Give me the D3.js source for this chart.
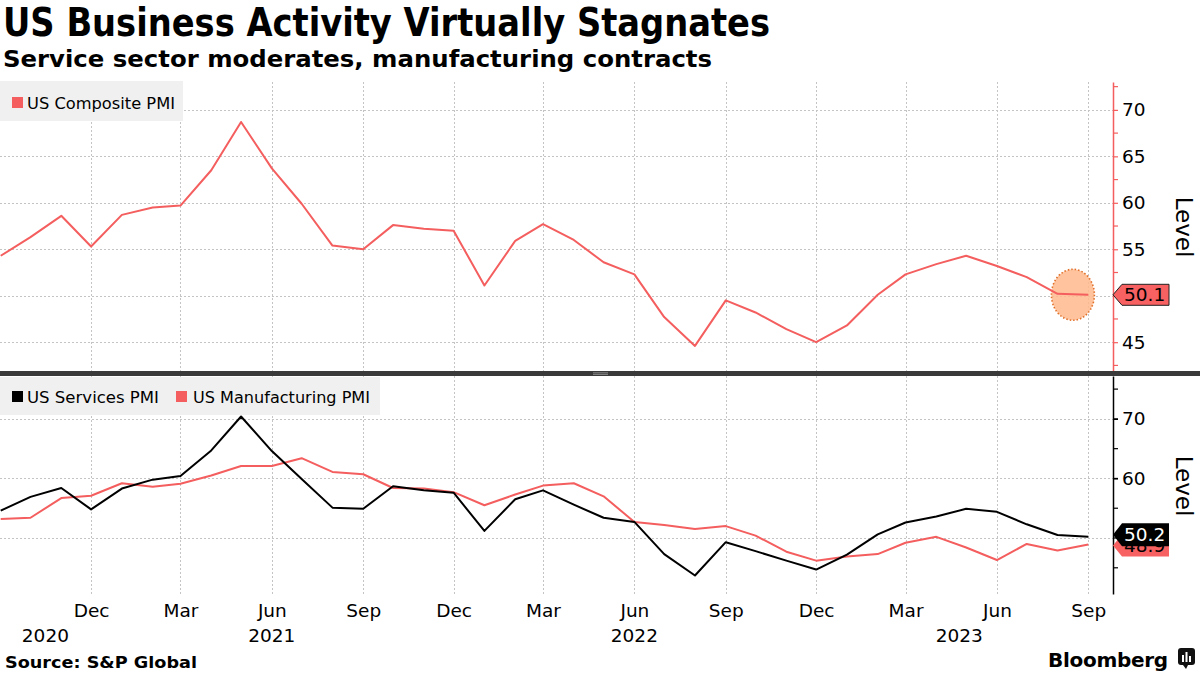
<!DOCTYPE html>
<html><head><meta charset="utf-8">
<script src="https://cdn.jsdelivr.net/npm/d3@7"></script>
<style>
body{margin:0;background:#fff}
svg{display:block}
text{font-family:"DejaVu Sans",Verdana,sans-serif}
</style>
</head><body>
<svg id="c" width="1200" height="675"></svg>
<script>
// ---------- DATA ----------
const months = ["2020-09","2020-10","2020-11","2020-12",
  "2021-01","2021-02","2021-03","2021-04","2021-05","2021-06","2021-07","2021-08","2021-09","2021-10","2021-11","2021-12",
  "2022-01","2022-02","2022-03","2022-04","2022-05","2022-06","2022-07","2022-08","2022-09","2022-10","2022-11","2022-12",
  "2023-01","2023-02","2023-03","2023-04","2023-05","2023-06","2023-07","2023-08","2023-09"];
const composite = [54.3,56.3,58.6,55.3,
  58.7,59.5,59.7,63.5,68.7,63.7,59.9,55.4,55.0,57.6,57.2,57.0,
  51.1,55.9,57.7,56.0,53.6,52.3,47.7,44.6,49.5,48.2,46.4,45.0,
  46.8,50.1,52.3,53.4,54.3,53.2,52.0,50.2,50.1];
const services = [54.6,56.9,58.4,54.8,
  58.3,59.8,60.4,64.7,70.4,64.6,59.9,55.1,54.9,58.7,58.0,57.6,
  51.2,56.5,58.0,55.6,53.4,52.7,47.3,43.7,49.3,47.8,46.2,44.7,
  47.2,50.6,52.6,53.6,54.9,54.4,52.3,50.5,50.2];
const manufacturing = [53.2,53.4,56.7,57.1,
  59.2,58.6,59.1,60.5,62.1,62.1,63.4,61.1,60.7,58.4,58.3,57.7,
  55.5,57.3,58.8,59.2,57.0,52.7,52.2,51.5,52.0,50.4,47.7,46.2,
  46.9,47.3,49.2,50.2,48.4,46.3,49.0,47.9,48.9];
const topTickLabels = [45,55,60,65,70];
const topGrid = [45,50,55,60,65,70];
const topMinorTicks = [42.5,47.5,50,52.5,57.5,62.5,67.5,72.5];
const bottomTickValues = [60,70];
const bottomAllTicks = [45,50,55,60,65,70,75];
const bottomGrid = [50,60,70];
const yearLabels = ["2020","2021","2022","2023"];
const yearLabelDates = ["2020-10-16","2021-06-01","2022-06-01","2023-04-24"];
const seriesNames = {composite:"US Composite PMI", services:"US Services PMI", manufacturing:"US Manufacturing PMI"};

// ---------- SETUP ----------
const RED = "#f45e5e", BLACK = "#000", GRID = "#c4c4c4";
const svg = d3.select("#c");
const parseM = d3.timeParse("%Y-%m");
const parseD = d3.timeParse("%Y-%m-%d");
const dates = months.map(parseM);
const AX = 1113;

const x = d3.scaleTime().domain([dates[0], dates[dates.length-1]]).range([0.7, 1088.3]);
const yTop = d3.scaleLinear().domain([41.9, 73.0]).range([371, 82]);
const yBot = d3.scaleLinear().domain([40.6, 77.2]).range([594, 376]);

const qTicks = x.ticks(d3.timeMonth.filter(d => d.getMonth() % 3 === 2)).filter(d => d > dates[0]);

// ---------- TITLES ----------
svg.append("text").attr("x",3).attr("y",36).attr("font-size",38.5).attr("font-weight","bold")
  .attr("textLength",767).attr("lengthAdjust","spacingAndGlyphs")
  .text("US Business Activity Virtually Stagnates");
svg.append("text").attr("x",3).attr("y",67).attr("font-size",23.5).attr("font-weight","bold")
  .attr("textLength",709).attr("lengthAdjust","spacingAndGlyphs")
  .text("Service sector moderates, manufacturing contracts");

// ---------- GRIDS ----------
function grid(yScale, vals, y0, y1){
  const g = svg.append("g").attr("stroke",GRID).attr("stroke-dasharray","2,2").attr("stroke-width",1);
  g.selectAll("line.h").data(vals).join("line").attr("class","h")
    .attr("x1",0).attr("x2",AX).attr("y1",d=>Math.round(yScale(d))+0.5).attr("y2",d=>Math.round(yScale(d))+0.5);
  g.selectAll("line.v").data(qTicks).join("line").attr("class","v")
    .attr("x1",d=>Math.round(x(d))+0.5).attr("x2",d=>Math.round(x(d))+0.5).attr("y1",y0).attr("y2",y1);
}
grid(yTop, topGrid, 82, 371);
grid(yBot, bottomGrid, 376, 594);

// ---------- LEGENDS ----------
svg.append("rect").attr("x",0).attr("y",81).attr("width",183).attr("height",40).attr("fill","#f0f0f0");
svg.append("rect").attr("x",12).attr("y",97).attr("width",11).attr("height",11).attr("fill",RED);
svg.append("text").attr("x",27).attr("y",109).attr("font-size",16.5)
  .attr("textLength",148).attr("lengthAdjust","spacingAndGlyphs").text(seriesNames.composite);

svg.append("rect").attr("x",0).attr("y",377).attr("width",380).attr("height",38).attr("fill","#f0f0f0");
svg.append("rect").attr("x",12).attr("y",391).attr("width",11).attr("height",11).attr("fill",BLACK);
svg.append("text").attr("x",27).attr("y",403).attr("font-size",16.5)
  .attr("textLength",132).attr("lengthAdjust","spacingAndGlyphs").text(seriesNames.services);
svg.append("rect").attr("x",176).attr("y",391).attr("width",11).attr("height",11).attr("fill",RED);
svg.append("text").attr("x",193).attr("y",403).attr("font-size",16.5)
  .attr("textLength",177).attr("lengthAdjust","spacingAndGlyphs").text(seriesNames.manufacturing);

// ---------- HIGHLIGHT ----------
const n = dates.length;
svg.append("ellipse")
  .attr("cx",(x(dates[n-2])+x(dates[n-1]))/2).attr("cy",yTop(composite[n-1]))
  .attr("rx",21.5).attr("ry",25.5)
  .attr("fill","#ffb98c").attr("fill-opacity",0.85)
  .attr("stroke","#e0702a").attr("stroke-width",1.6).attr("stroke-dasharray","1.5,2");

// ---------- LINES ----------
function drawLine(yScale, vals, color, w){
  const line = d3.line().x((d,i)=>x(dates[i])).y(d=>yScale(d));
  svg.append("path").datum(vals).attr("d",line).attr("fill","none")
    .attr("stroke",color).attr("stroke-width",w).attr("stroke-linejoin","round");
}
drawLine(yTop, composite, RED, 2);
drawLine(yBot, manufacturing, RED, 2);
drawLine(yBot, services, BLACK, 2);

// ---------- Y AXES ----------
function styleAxis(g, color){
  g.select(".domain").attr("stroke",color).attr("stroke-width",1.5);
  g.selectAll(".tick line").attr("stroke",color).attr("stroke-width",1.2);
  g.selectAll(".tick text").attr("font-size",18.5).attr("font-family","DejaVu Sans, sans-serif").attr("fill","#000");
}
const gTop = svg.append("g").attr("transform",`translate(${AX},0)`)
  .call(d3.axisRight(yTop).tickValues(topTickLabels).tickSize(5).tickSizeOuter(0).tickPadding(4).tickFormat(d3.format("d")));
gTop.selectAll(".minor").data(topMinorTicks).join("line").attr("class","minor")
  .attr("x1",0).attr("x2",5).attr("y1",d=>yTop(d)).attr("y2",d=>yTop(d));
styleAxis(gTop, RED);
gTop.selectAll(".minor").attr("stroke",RED).attr("stroke-width",1.2);

const gBot = svg.append("g").attr("transform",`translate(${AX},0)`)
  .call(d3.axisRight(yBot).tickValues(bottomTickValues).tickSize(5).tickSizeOuter(0).tickPadding(4).tickFormat(d3.format("d")));
gBot.selectAll(".minor").data(bottomAllTicks).join("line").attr("class","minor")
  .attr("x1",0).attr("x2",5).attr("y1",d=>yBot(d)).attr("y2",d=>yBot(d));
styleAxis(gBot, BLACK);
gBot.selectAll(".minor").attr("stroke",BLACK).attr("stroke-width",1.2);

// Level labels
[227,486].forEach(cy=>{
  svg.append("text").attr("transform",`translate(1176,${cy}) rotate(90)`)
    .attr("text-anchor","middle").attr("font-size",23).text("Level");
});

// ---------- SEPARATOR ----------
svg.append("rect").attr("x",0).attr("y",371).attr("width",1200).attr("height",5).attr("fill","#3a3a3a");
svg.append("line").attr("x1",593).attr("x2",608).attr("y1",372.8).attr("y2",372.8).attr("stroke","#9a9a9a").attr("stroke-width",0.8);
svg.append("line").attr("x1",593).attr("x2",608).attr("y1",374.4).attr("y2",374.4).attr("stroke","#9a9a9a").attr("stroke-width",0.8);

// ---------- X AXIS ----------
const gx = svg.append("g").attr("transform","translate(0,594)")
  .call(d3.axisBottom(x).tickValues(qTicks).tickSize(0).tickPadding(10).tickFormat(d3.timeFormat("%b")));
gx.select(".domain").remove();
gx.selectAll(".tick text").attr("font-size",18.5).attr("font-family","DejaVu Sans, sans-serif").attr("fill","#000");
svg.selectAll("text.year").data(yearLabels).join("text").attr("class","year")
  .attr("x",(d,i)=>x(parseD(yearLabelDates[i]))).attr("y",642)
  .attr("text-anchor","middle").attr("font-size",18.5).text(d=>d);

// ---------- END LABELS ----------
function endLabel(cy, val, fill, txtColor, stroke, h){
  const tip = AX, l = 1122, r = 1169;
  svg.append("path")
    .attr("d",`M${tip},${cy} L${l},${cy-h/2} L${r},${cy-h/2} L${r},${cy+h/2} L${l},${cy+h/2} Z`)
    .attr("fill",fill).attr("stroke",stroke||"none").attr("stroke-width",1);
  svg.append("text").attr("x",1124).attr("y",cy+6.5).attr("font-size",18.5).style("fill",txtColor).text(val.toFixed(1));
}
endLabel(yTop(composite[n-1]), composite[n-1], "#f86161", "#000", "#222", 21);
endLabel(yBot(manufacturing[n-1]) + 1, manufacturing[n-1], "#f86161", "#000", null, 22);
endLabel(yBot(services[n-1]) - 2, services[n-1], "#000", "#fff", null, 23);

// ---------- FOOTER ----------
svg.append("text").attr("x",5).attr("y",668).attr("font-size",16.5).attr("font-weight","bold")
  .attr("textLength",192).attr("lengthAdjust","spacingAndGlyphs").text("Source: S&P Global");
svg.append("text").attr("x",1048).attr("y",667).attr("font-size",20).attr("font-weight","bold")
  .attr("letter-spacing",-0.3).text("Bloomberg");
const logo = svg.append("g").attr("transform","translate(1178,648)");
logo.append("rect").attr("width",17).attr("height",17).attr("rx",3).attr("fill","#111");
logo.append("path").attr("d","M5,17 L8,21 L10,17 Z").attr("fill","#111");
[[4,7,2,7],[7.5,4,2,10],[11,8,2,6]].forEach(([bx,by,bw,bh])=>
  logo.append("rect").attr("x",bx).attr("y",by).attr("width",bw).attr("height",bh).attr("fill","#fff"));
</script>
</body></html>
